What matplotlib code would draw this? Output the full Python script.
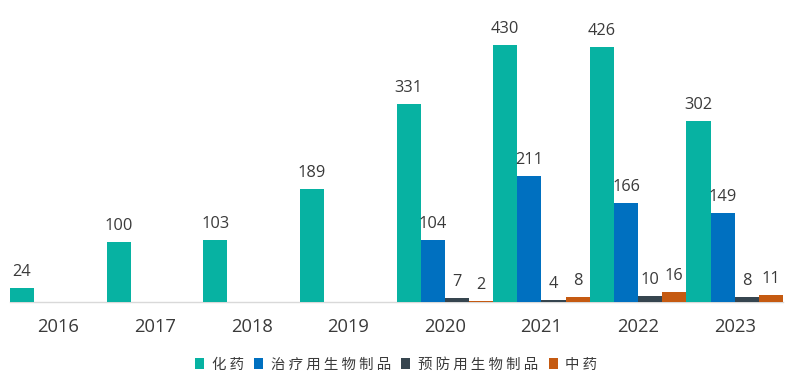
import numpy as np
import matplotlib
matplotlib.use("Agg")
import matplotlib.pyplot as plt
from matplotlib.patches import Patch

years = ["2016", "2017", "2018", "2019", "2020", "2021", "2022", "2023"]
series_names = ["化药", "治疗用生物制品", "预防用生物制品", "中药"]
chem = [24, 100, 103, 189, 331, 430, 426, 302]
bio_ther = [None, None, None, None, 104, 211, 166, 149]
bio_prev = [None, None, None, None, 7, 4, 10, 8]
tcm = [None, None, None, None, 2, 8, 16, 11]
colors = ["#07B2A2", "#0070C0", "#36454F", "#C55A11"]

NUM_FONT = ["Open Sans", "DejaVu Sans"]
CJK_FONT = ["Noto Sans CJK SC", "DejaVu Sans"]
TXT = "#3A3A3A"

fig = plt.figure(figsize=(7.88, 3.74), dpi=100)
ax = fig.add_axes([10 / 788, 72 / 374, 773 / 788, 302 / 374])

x = np.arange(len(years))
w = 0.25
all_series = [chem, bio_ther, bio_prev, tcm]
for k, (vals, col) in enumerate(zip(all_series, colors)):
    off = (k - 1.5) * w
    for i, v in enumerate(vals):
        if v is None:
            continue
        ax.bar(x[i] + off, v, width=w, color=col, edgecolor="none",
               linewidth=0, zorder=3)
        ax.annotate(str(v), (x[i] + off, v), xytext=(0, 8.6),
                    textcoords="offset points", ha="center", va="baseline",
                    fontsize=11.8, color=TXT, family=NUM_FONT)

ax.set_xlim(-0.5, len(years) - 0.5)
ax.set_ylim(0, 505)
ax.set_xticks(x)
ax.set_xticklabels(years, family=NUM_FONT, fontsize=13.2, color=TXT)
ax.tick_params(axis="x", length=0, pad=11.5)
ax.set_yticks([])
for s in ["top", "right", "left"]:
    ax.spines[s].set_visible(False)
ax.spines["bottom"].set_color("#D9D9D9")
ax.spines["bottom"].set_linewidth(1.0)
ax.patch.set_alpha(0)

handles = [Patch(facecolor=c, edgecolor="none") for c in colors]
labels = [" ".join(list(n)) for n in series_names]
fig.legend(handles, labels, loc="center", bbox_to_anchor=(0.503, 9.5 / 374),
           ncol=4, frameon=False, prop={"family": CJK_FONT, "size": 10.4},
           handlelength=0.62, handleheight=0.7, handletextpad=0.55,
           columnspacing=0.7, labelcolor=TXT, borderpad=0, borderaxespad=0)

fig.savefig("out.png", dpi=100)
